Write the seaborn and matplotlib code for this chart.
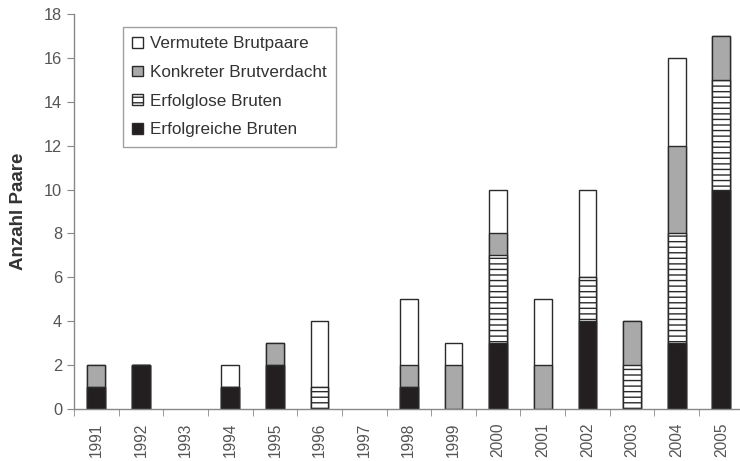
import matplotlib
matplotlib.use("Agg")

import matplotlib.pyplot as plt
import numpy as np
import pandas as pd
import seaborn as sns
from matplotlib.patches import Patch

years = ["1991", "1992", "1993", "1994", "1995", "1996", "1997", "1998",
         "1999", "2000", "2001", "2002", "2003", "2004", "2005"]
erfolgreiche = [1, 2, 0, 1, 2, 0, 0, 1, 0, 3, 0, 4, 0, 3, 10]
erfolglose = [0, 0, 0, 0, 0, 1, 0, 0, 0, 4, 0, 2, 2, 5, 5]
konkreter = [1, 0, 0, 0, 1, 0, 0, 1, 2, 1, 2, 0, 2, 4, 2]
vermutete = [0, 0, 0, 1, 0, 3, 0, 3, 1, 2, 3, 4, 0, 4, 0]

labels = ["Erfolgreiche Bruten", "Erfolglose Bruten",
          "Konkreter Brutverdacht", "Vermutete Brutpaare"]

df = pd.DataFrame({"Jahr": years})
df["c1"] = np.array(erfolgreiche, dtype=float)
df["c2"] = df["c1"] + np.array(erfolglose)
df["c3"] = df["c2"] + np.array(konkreter)
df["c4"] = df["c3"] + np.array(vermutete)
# empty stacks should not leave a line on the axis
for col in ["c1", "c2", "c3", "c4"]:
    df[col] = df[col].replace(0, np.nan)

sns.set_style("white")
plt.rcParams["font.family"] = ["Liberation Sans", "DejaVu Sans"]
plt.rcParams["hatch.linewidth"] = 1.0
plt.rcParams["hatch.color"] = "#2a2a2a"

fig = plt.figure(figsize=(7.4, 4.61), dpi=100)
ax = fig.add_axes([0.1, 0.1128, 0.905, 0.857])

edge = "#2a2a2a"
# draw cumulative totals, tallest first, each layer covers the one below
layers = [("c4", "white", ""), ("c3", "#a9a9a9", ""),
          ("c2", "white", "---"), ("c1", "#231f20", "")]
for col, color, hatch in layers:
    sns.barplot(data=df, x="Jahr", y=col, color=color, width=0.4,
                edgecolor=edge, linewidth=1.0, hatch=hatch, saturation=1,
                ax=ax)

ax.set_xlim(-0.5, 14.5)
ax.set_ylim(0, 18)
ax.set_yticks(range(0, 19, 2))
ax.set_xticks(np.arange(-0.5, 14.6, 1), minor=True)
ax.tick_params(axis="x", which="major", length=0, labelrotation=90,
               labelsize=11.2, labelcolor="#555555", pad=10)
ax.tick_params(axis="x", which="minor", length=5, color="#888888",
               direction="out", bottom=True)
ax.tick_params(axis="y", length=5, color="#888888", direction="out",
               labelsize=11.8, labelcolor="#555555", left=True)
ax.set_xlabel("")
ax.set_ylabel("Anzahl Paare", fontsize=13.5, fontweight="bold",
              color="#333333", labelpad=12)

for side in ["top", "right"]:
    ax.spines[side].set_visible(False)
for side in ["left", "bottom"]:
    ax.spines[side].set_color("#888888")
    ax.spines[side].set_linewidth(1.0)

handles = [Patch(facecolor="white", edgecolor=edge, label=labels[3]),
           Patch(facecolor="#a9a9a9", edgecolor=edge, label=labels[2]),
           Patch(facecolor="white", edgecolor=edge, hatch="---", label=labels[1]),
           Patch(facecolor="#231f20", edgecolor=edge, label=labels[0])]
leg = ax.legend(handles=handles, loc="upper left", bbox_to_anchor=(0.073, 0.967),
                fontsize=12.3, frameon=True, fancybox=False, edgecolor="#888888",
                handlelength=0.6, handleheight=0.6, handletextpad=0.45,
                labelspacing=0.8, borderpad=0.55, borderaxespad=0)
for t in leg.get_texts():
    t.set_color("#333333")

fig.savefig("out.png", dpi=100)
